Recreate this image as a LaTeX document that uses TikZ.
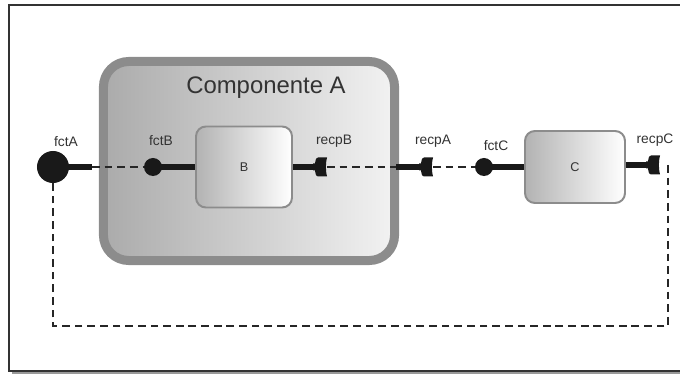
\documentclass[tikz,border=0pt]{standalone}
\usepackage{fontspec}
\setmainfont{Liberation Sans}
\usepackage{xcolor}
\usetikzlibrary{positioning}

\definecolor{rimgray}{HTML}{8C8C8C}
\definecolor{textgray}{HTML}{333333}

\tikzset{
    compbox/.style={draw=rimgray, line width=6.4pt, rounded corners=18pt, left color=black!33, right color=black!5},
    block/.style={draw=rimgray, line width=1.4pt, rounded corners=7pt, left color=black!30, right color=white, font=\fontsize{9}{11}\selectfont, text=textgray},
    fct/.style={circle, fill=black!90, inner sep=0pt},
    bar/.style={line width=4.3pt, black!90},
    link/.style={line width=1pt, black!85, dash pattern=on 5.5pt off 3.5pt},
    lbl/.style={font=\fontsize{9.8}{12}\selectfont, text=textgray},
    recphead/.pic={
        \fill[black!90] (0,-3.5) -- (2,-3.5) .. controls (3,-9) .. (5,-9.5) -- (14,-9.5)
            .. controls (12.5,-4) and (12.5,4) .. (14,9.5) -- (5,9.5)
            .. controls (3,9) .. (2,3.5) -- (0,3.5) -- cycle;
    }
}

\begin{document}
\begin{tikzpicture}[x=0.025cm, y=-0.025cm, every node/.style={inner sep=0pt}]
    \useasboundingbox (0,0) rectangle (680,374);
    \fill[black!40] (12,371.5) rectangle (680,374);
    \draw[black!80, line width=0.8pt] (700,5) -- (9,5) -- (9,371) -- (700,371);

    \node[compbox, minimum width=7.275cm, minimum height=4.975cm] (compA) at (249,161) {};
    \node[font=\fontsize{17}{20}\selectfont, text=textgray] (titleA) at (266,88) {Componente A};

    \node[block, minimum width=2.4cm, minimum height=2.025cm] (B) at (244,167) {B};
    \node[block, minimum width=2.5cm, minimum height=1.8cm] (C) at (575,167) {C};

    \node[fct, minimum size=0.8cm] (fctA) at (53,167) {};
    \node[fct, minimum size=0.45cm] (fctB) at (153,167) {};
    \node[fct, minimum size=0.45cm] (fctC) at (484,167) {};

    \coordinate (fctAend) at (92,167);
    \coordinate (recpB) at (313,167);
    \coordinate (recpBout) at (327,167);
    \coordinate (recpAin) at (396,167);
    \coordinate (recpA) at (419,167);
    \coordinate (recpAout) at (433,167);
    \coordinate (recpC) at (646,165);
    \coordinate (recpCout) at (668,165);
    \coordinate (loop) at (360,326);

    \draw[bar] (fctA.center) -- (fctAend);
    \draw[bar] (fctB.center) -- (B.west);
    \draw[bar] (B.east) -- (recpB);
    \draw[bar] (recpAin) -- (recpA);
    \draw[bar] (fctC.center) -- (C.west);
    \draw[bar] (C.east |- recpC) -- (recpC);
    \foreach \p in {recpB,recpA,recpC} {
        \pic at (\p) {recphead};
    }

    \draw[link] (fctAend) -- (fctB);
    \draw[link] (recpBout) -- (recpAin);
    \draw[link] (recpAout) -- (fctC);
    \draw[link] (recpCout) |- (loop) -| (fctA);

    \node[lbl] (lfctA) at (66,142) {fctA};
    \node[lbl] (lfctB) at (161,141) {fctB};
    \node[lbl] (lrecpB) at (334,141) {recpB};
    \node[lbl] (lrecpA) at (433,141) {recpA};
    \node[lbl] (lfctC) at (496,146) {fctC};
    \node[lbl] (lrecpC) at (655,140) {recpC};
\end{tikzpicture}
\end{document}
